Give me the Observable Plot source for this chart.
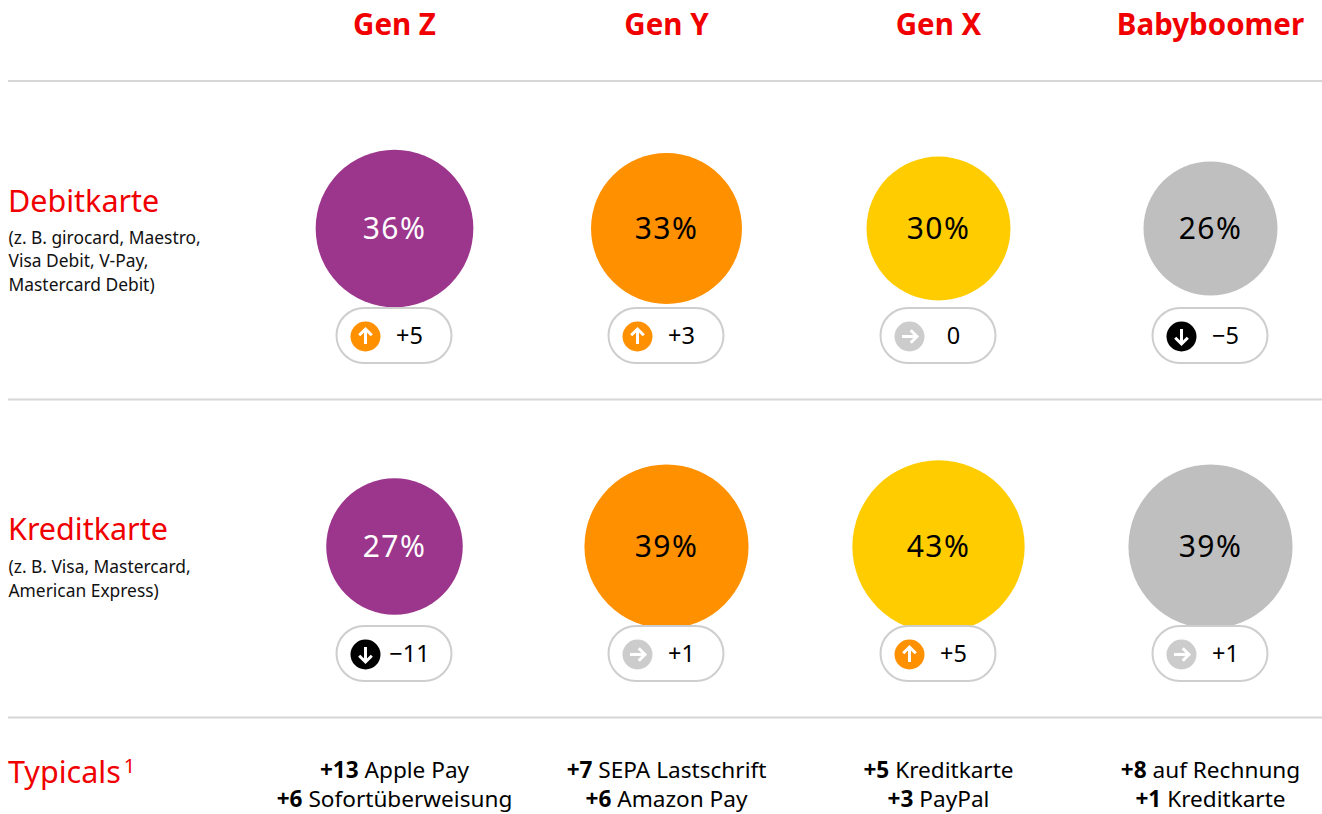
<!DOCTYPE html>
<html>
<head>
<meta charset="utf-8">
<script src="https://cdn.jsdelivr.net/npm/d3@7"></script>
<script src="https://cdn.jsdelivr.net/npm/@observablehq/plot@0.6"></script>
<style>
html,body{margin:0;padding:0;background:#fff;overflow:hidden}
svg{display:block}
</style>
</head>
<body>
<div id="chart"></div>
<script>
const generations = ["Gen Z", "Gen Y", "Gen X", "Babyboomer"];
const rows = ["Debitkarte", "Kreditkarte"];
const debitShare = [36, 33, 30, 26];
const creditShare = [27, 39, 43, 39];
const debitChange = [5, 3, 0, -5];
const creditChange = [-11, 1, 5, 1];
const debitNote = "(z. B. girocard, Maestro,\nVisa Debit, V-Pay,\nMastercard Debit)";
const creditNote = "(z. B. Visa, Mastercard,\nAmerican Express)";
const typicalsFirst = [["+13", "Apple Pay"], ["+7", "SEPA Lastschrift"], ["+5", "Kreditkarte"], ["+8", "auf Rechnung"]];
const typicalsSecond = [["+6", "Sofortüberweisung"], ["+6", "Amazon Pay"], ["+3", "PayPal"], ["+1", "Kreditkarte"]];
const genColors = ["#9c358c", "#ff9000", "#ffcc00", "#bfbfbf"];
const percentInk = ["#ffffff", "#000000", "#000000", "#000000"];

const FONT = "'Noto Sans', sans-serif";
const RED = "#f00000";

const cells = [];
generations.forEach((g, i) => {
  cells.push({gen: g, row: rows[0], share: debitShare[i], change: debitChange[i], ink: percentInk[i]});
  cells.push({gen: g, row: rows[1], share: creditShare[i], change: creditChange[i], ink: percentInk[i]});
});
const trend = v => v >= 3 ? "up" : v <= -3 ? "down" : "flat";
const trendColor = {up: "#ff9000", down: "#000000", flat: "#cccccc"};
const trendAngle = {up: 0, down: 180, flat: 90};
const fmt = v => v > 0 ? "+" + v : v < 0 ? "\u2212" + Math.abs(v) : "0";
const arrowShape = {draw(ctx, l) {
  const h = l * 0.42;
  ctx.moveTo(0, 0); ctx.lineTo(0, -l);
  ctx.moveTo(-h, -l + h); ctx.lineTo(0, -l); ctx.lineTo(h, -l + h);
}};

const chart = Plot.plot({
  width: 1322,
  height: 814,
  marginLeft: 8, marginRight: 0, marginTop: 0, marginBottom: 0,
  style: {fontFamily: FONT, background: "#fff"},
  x: {type: "point", domain: generations, range: [393, 1210], padding: 0, axis: null},
  y: {type: "point", domain: rows, range: [228, 546], padding: 0, axis: null},
  r: {type: "sqrt", domain: [0, 100], range: [0, 131.4]},
  color: {type: "ordinal", domain: generations, range: genColors},
  marks: [
    Plot.ruleY(rows.slice(0, 1), {y: d => d, dy: -147.5, stroke: "#d6d6d6", strokeWidth: 2}),
    Plot.ruleY(rows, {y: d => d, dy: 171, stroke: "#d6d6d6", strokeWidth: 2}),
    Plot.text(generations, {x: d => d, text: d => d, frameAnchor: "top", lineAnchor: "middle", dy: 25,
      fill: RED, fontSize: 29.5, fontWeight: 700}),
    Plot.dot(cells, {x: "gen", y: "row", r: "share", fill: "gen"}),
    Plot.text(cells, {x: "gen", y: "row", dy: 1, text: d => d.share + "%", fill: {value: "ink", scale: null},
      fontSize: 30, lineAnchor: "middle"}),
    Plot.rect(cells, {x1: "gen", x2: "gen", y1: "row", y2: "row",
      insetLeft: -57.5, insetRight: -57.5, insetTop: 80, insetBottom: -135, rx: 27.5,
      fill: "#fff", stroke: "#cecece", strokeWidth: 2}),
    Plot.dot(cells, {x: "gen", y: "row", dx: -29, dy: 108, r: 15,
      fill: {value: d => trendColor[trend(d.change)], scale: null}}),
    Plot.vector(cells, {x: "gen", y: "row", dx: -29, dy: 108, length: 15, anchor: "middle", shape: arrowShape,
      rotate: d => trendAngle[trend(d.change)], stroke: "#fff", strokeWidth: 3,
      strokeLinecap: "butt", strokeLinejoin: "miter"}),
    Plot.text(cells, {x: "gen", y: "row", dx: 15, dy: 108, text: d => fmt(d.change), fill: "#000",
      fontSize: 23.5, lineAnchor: "middle"}),
    Plot.text(rows.slice(0, 1), {y: d => d, text: d => d, frameAnchor: "left", dx: -0.5, dy: -26, textAnchor: "start",
      fill: RED, fontSize: 30.5, lineAnchor: "middle"}),
    Plot.text(rows.slice(1), {y: d => d, text: d => d, frameAnchor: "left", dx: -0.5, dy: -16, textAnchor: "start",
      fill: RED, fontSize: 30.5, lineAnchor: "middle"}),
    Plot.text([debitNote], {y: () => rows[0], text: d => d, frameAnchor: "left", dy: 31, textAnchor: "start",
      fill: "#111", fontSize: 17.4, lineHeight: 1.35, lineAnchor: "middle"}),
    Plot.text([creditNote], {y: () => rows[1], text: d => d, frameAnchor: "left", dy: 31, textAnchor: "start",
      fill: "#111", fontSize: 17.4, lineHeight: 1.35, lineAnchor: "middle"}),
    Plot.text(["Typicals1"], {text: d => d, frameAnchor: "bottom-left", dx: -0.5, dy: -41, textAnchor: "start",
      fill: RED, fontSize: 30.5, lineAnchor: "middle"}),
    Plot.text(typicalsFirst, {x: (d, i) => generations[i], text: d => d.join(" "), frameAnchor: "bottom",
      dy: -44, lineAnchor: "middle", fontSize: 22.6, fill: "#000"}),
    Plot.text(typicalsSecond, {x: (d, i) => generations[i], text: d => d.join(" "), frameAnchor: "bottom",
      dy: -14.5, lineAnchor: "middle", fontSize: 22.6, fill: "#000"})
  ]
});

const allText = d3.select(chart).selectAll("text");

// bold leading figure inside each "typicals" line, still one centred text element
allText.filter(function () {
  return /^\+\d+ \S/.test(this.textContent);
}).each(function () {
  const t = this.textContent, k = t.indexOf(" ");
  const sel = d3.select(this);
  sel.text(null);
  sel.append("tspan").attr("font-weight", 700).text(t.slice(0, k));
  sel.append("tspan").text(t.slice(k));
});

// wider tracking on the percentages
allText.filter(function () {
  return /%$/.test(this.textContent);
}).style("letter-spacing", "1.5px");

// footnote mark as a raised figure
allText.filter(function () {
  return this.textContent === "Typicals1";
}).each(function () {
  const sel = d3.select(this);
  sel.text("Typicals");
  sel.append("tspan").attr("font-size", 20).attr("dx", 3).attr("dy", -10).text("1");
});

document.getElementById("chart").appendChild(chart);
</script>
</body>
</html>
